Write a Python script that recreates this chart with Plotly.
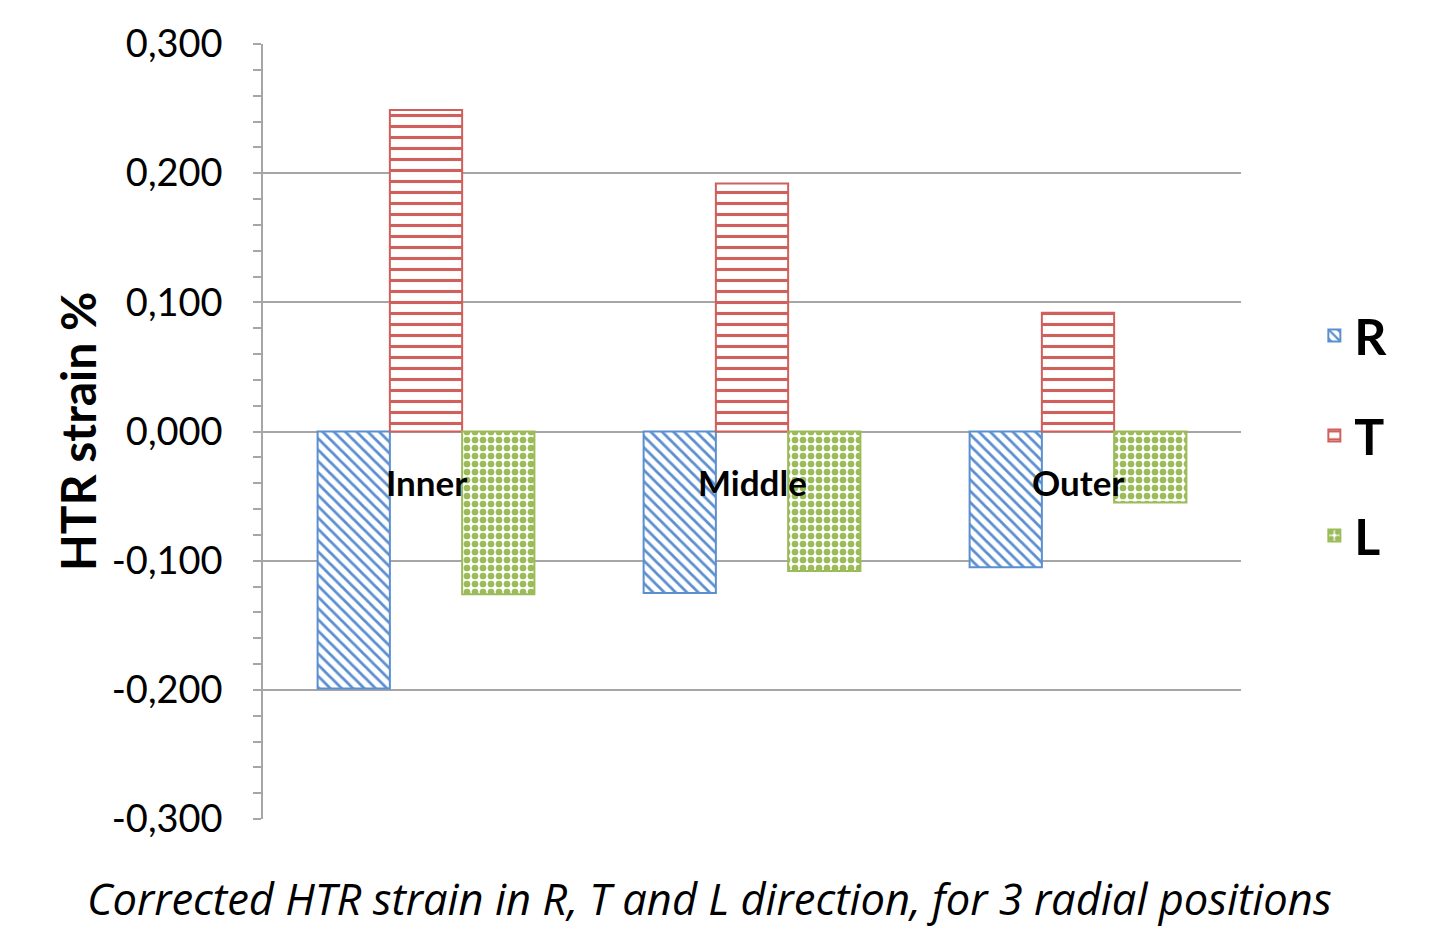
import plotly.graph_objects as go

categories = ["Inner", "Middle", "Outer"]
r_values = [-0.199, -0.125, -0.105]
t_values = [0.249, 0.192, 0.092]
l_values = [-0.126, -0.108, -0.055]
series_names = ["R", "T", "L"]
tick_values = [-0.3, -0.2, -0.1, 0.0, 0.1, 0.2, 0.3]
tick_text = [("%.3f" % v).replace(".", ",") for v in tick_values]

FONT = "Lato"
GRID = "#A6A6A6"

fig = go.Figure()

styles = {
    "R": dict(color="#5B8FCF", shape="\\", size=8, solidity=0.35),
    "T": dict(color="#CF605C", shape="-", size=11, solidity=0.28),
    "L": dict(color="#9BBB59", shape=".", size=8, solidity=0.55),
}

for name, vals in zip(series_names, [r_values, t_values, l_values]):
    s = styles[name]
    fig.add_trace(go.Bar(
        x=categories, y=vals, name="<b>%s</b>" % name, legendgroup=name,
        marker=dict(
            color="white",
            line=dict(color=s["color"], width=2),
            pattern=dict(shape=s["shape"], fgcolor=s["color"], bgcolor="white",
                         size=s["size"], solidity=s["solidity"],
                         fillmode="replace", fgopacity=1),
        ),
    ))

for c in categories:
    fig.add_annotation(x=c, y=0, xref="x", yref="y", text="<b>%s</b>" % c,
                       showarrow=False, yshift=-50,
                       font=dict(family=FONT, size=35, color="black"))

fig.add_annotation(x=0.457, y=-0.102, xref="paper", yref="paper",
                   text="<i>Corrected HTR strain in R, T and L direction, for 3 radial positions</i>",
                   showarrow=False, xanchor="center", yanchor="middle",
                   font=dict(family="Open Sans", size=43.5, color="black"))

fig.add_annotation(x=-0.189, y=0.4994, xref="paper", yref="paper",
                   text="<b>HTR strain %</b>", textangle=-90,
                   showarrow=False, xanchor="center", yanchor="middle",
                   font=dict(family=FONT, size=48, color="black"))

fig.update_layout(
    width=1433, height=920,
    paper_bgcolor="white", plot_bgcolor="white",
    margin=dict(l=255, r=200, t=36, b=109, autoexpand=False),
    barmode="group", bargap=0.335, bargroupgap=0,
    showlegend=True,
    legend=dict(x=1.075, y=0.495, xanchor="left", yanchor="middle",
                font=dict(family=FONT, size=50, color="black"),
                traceorder="grouped", tracegroupgap=32,
                itemsizing="constant"),
    font=dict(family=FONT, color="black"),
)

fig.update_xaxes(showticklabels=False, showgrid=False, zeroline=False,
                 showline=False, ticks="", automargin=False)

fig.update_yaxes(
    range=[-0.3, 0.3], tickvals=tick_values, ticktext=tick_text,
    showgrid=True, gridcolor=GRID, gridwidth=1.5, automargin=False,
    zeroline=False, showline=True, linecolor=GRID, linewidth=1.5,
    ticks="outside", ticklen=8, tickcolor=GRID, tickwidth=1.5,
    minor=dict(dtick=0.02, ticks="outside", ticklen=8, tickcolor=GRID, tickwidth=1.5, showgrid=False),
    tickfont=dict(family=FONT, size=38, color="black"),
    ticklabelstandoff=23,
)

fig.write_html("out.html")
